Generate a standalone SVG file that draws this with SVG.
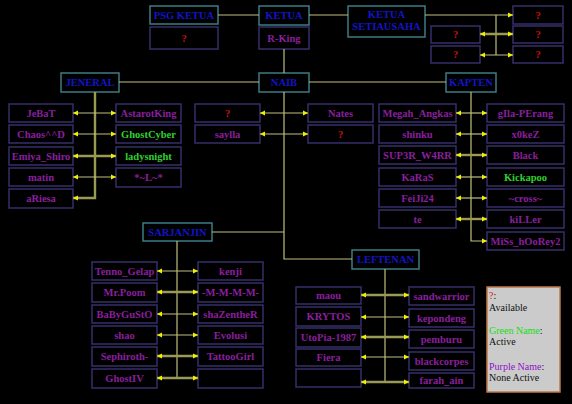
<svg xmlns="http://www.w3.org/2000/svg" width="572" height="404" viewBox="0 0 572 404">
<defs>
<style>
.h{fill:#000;stroke:#3c7c84;stroke-width:1.5}
.n{fill:#000;stroke:#352f68;stroke-width:1.5}
text{font-family:"Liberation Serif","Times New Roman",serif;font-weight:bold;font-size:10.5px;text-anchor:middle}
.t{fill:#1414c8}
.p{fill:#8a1f9e}
.g{fill:#30d030}
.r{fill:#cc1010}
.c line,.c polyline{fill:none;stroke:#c0c07c;stroke-width:1.2}
.c .k{stroke:#9a9a55;stroke-width:2.4}
.c .a{marker-end:url(#ah)}
.c .b{marker-start:url(#ah);marker-end:url(#ah)}
.lg text{font-weight:normal;font-size:10px;text-anchor:start;fill:#111}
</style>
<marker id="ah" markerUnits="userSpaceOnUse" markerWidth="6" markerHeight="6" refX="5" refY="3" orient="auto-start-reverse">
<path d="M0,0.5 L5,3 L0,5.5 z" fill="#f0f000"/>
</marker>
</defs>
<rect width="572" height="404" fill="#000"/>

<g id="psg-ketua"><rect class="h" x="150" y="6" width="68" height="18"/><text class="t" x="184" y="18.5">PSG KETUA</text></g>
<g id="psg-ketua-name"><rect class="n" x="150" y="27" width="68" height="22"/><text class="r" x="184" y="41.5">?</text></g>
<g id="ketua"><rect class="h" x="259" y="6" width="50" height="19"/><text class="t" x="284" y="19">KETUA</text></g>
<g id="ketua-name"><rect class="n" x="259" y="27" width="50" height="22"/><text class="p" x="284" y="41.5">R-King</text></g>
<g id="setiausaha"><rect class="h" x="348" y="6" width="77" height="31"/><text class="t" x="386.5" y="18">KETUA</text><text class="t" x="386.5" y="29.5">SETIAUSAHA</text></g>
<g id="setia-r1"><rect class="n" x="513" y="6" width="50" height="18"/><text class="r" x="538" y="18.5">?</text></g>
<g id="setia-r2"><rect class="n" x="513" y="26" width="50" height="17"/><text class="r" x="538" y="38">?</text></g>
<g id="setia-r3"><rect class="n" x="513" y="46" width="50" height="17"/><text class="r" x="538" y="58">?</text></g>
<g id="setia-l2"><rect class="n" x="431" y="26" width="49" height="17"/><text class="r" x="455.5" y="38">?</text></g>
<g id="setia-l3"><rect class="n" x="431" y="46" width="49" height="17"/><text class="r" x="455.5" y="58">?</text></g>

<g id="naib"><rect class="h" x="259" y="73" width="50" height="19"/><text class="t" x="284" y="86">NAIB</text></g>
<g id="naib-l1"><rect class="n" x="195" y="104" width="65" height="18"/><text class="r" x="227.5" y="116.5">?</text></g>
<g id="naib-l2"><rect class="n" x="195" y="125" width="65" height="18"/><text class="p" x="227.5" y="137.5">saylla</text></g>
<g id="naib-r1"><rect class="n" x="308" y="104" width="65" height="18"/><text class="p" x="340.5" y="116.5">Nates</text></g>
<g id="naib-r2"><rect class="n" x="308" y="125" width="65" height="18"/><text class="r" x="340.5" y="137.5">?</text></g>

<g id="jeneral"><rect class="h" x="61" y="73" width="58" height="19"/><text class="t" x="90" y="86">JENERAL</text></g>
<g id="jen-l1"><rect class="n" x="9" y="104" width="64" height="18"/><text class="p" x="41" y="116.5">JeBaT</text></g>
<g id="jen-l2"><rect class="n" x="9" y="125" width="64" height="18"/><text class="p" x="41" y="137.5">Chaos^^D</text></g>
<g id="jen-l3"><rect class="n" x="9" y="147" width="64" height="18"/><text class="p" x="41" y="159.5">Emiya_Shiro</text></g>
<g id="jen-l4"><rect class="n" x="9" y="168" width="64" height="18"/><text class="p" x="41" y="180.5">matin</text></g>
<g id="jen-l5"><rect class="n" x="9" y="189" width="64" height="19"/><text class="p" x="41" y="202">aRiesa</text></g>
<g id="jen-r1"><rect class="n" x="116" y="104" width="65" height="18"/><text class="p" x="148.5" y="116.5">AstarotKing</text></g>
<g id="jen-r2"><rect class="n" x="116" y="125" width="65" height="18"/><text class="g" x="148.5" y="137.5">GhostCyber</text></g>
<g id="jen-r3"><rect class="n" x="116" y="147" width="65" height="18"/><text class="g" x="148.5" y="159.5">ladysnight</text></g>
<g id="jen-r4"><rect class="n" x="116" y="168" width="65" height="19"/><text class="p" x="148.5" y="180.5">*~L~*</text></g>

<g id="kapten"><rect class="h" x="446" y="73" width="50" height="19"/><text class="t" x="471" y="86">KAPTEN</text></g>
<g id="kap-l1"><rect class="n" x="379" y="104" width="77" height="18"/><text class="p" x="417.5" y="116.5">Megah_Angkas</text></g>
<g id="kap-l2"><rect class="n" x="379" y="125" width="77" height="18"/><text class="p" x="417.5" y="137.5">shinku</text></g>
<g id="kap-l3"><rect class="n" x="379" y="146" width="77" height="18"/><text class="p" x="417.5" y="158.5">SUP3R_W4RR</text></g>
<g id="kap-l4"><rect class="n" x="379" y="168" width="77" height="18"/><text class="p" x="417.5" y="180.5">KaRaS</text></g>
<g id="kap-l5"><rect class="n" x="379" y="189" width="77" height="18"/><text class="p" x="417.5" y="201.5">FeiJi24</text></g>
<g id="kap-l6"><rect class="n" x="379" y="210" width="77" height="18"/><text class="p" x="417.5" y="222.5">te</text></g>
<g id="kap-r1"><rect class="n" x="487" y="104" width="77" height="18"/><text class="p" x="525.5" y="116.5">gIla-PErang</text></g>
<g id="kap-r2"><rect class="n" x="487" y="125" width="77" height="18"/><text class="p" x="525.5" y="137.5">x0keZ</text></g>
<g id="kap-r3"><rect class="n" x="487" y="146" width="77" height="18"/><text class="p" x="525.5" y="158.5">Black</text></g>
<g id="kap-r4"><rect class="n" x="487" y="168" width="77" height="18"/><text class="g" x="525.5" y="180.5">Kickapoo</text></g>
<g id="kap-r5"><rect class="n" x="487" y="189" width="77" height="18"/><text class="p" x="525.5" y="201.5">~cross~</text></g>
<g id="kap-r6"><rect class="n" x="487" y="210" width="77" height="18"/><text class="p" x="525.5" y="222.5">kiLLer</text></g>
<g id="kap-r7"><rect class="n" x="487" y="232" width="77" height="18"/><text class="p" x="525.5" y="244.5">MiSs_hOoRey2</text></g>

<g id="sarjanjin"><rect class="h" x="143" y="223" width="69" height="18"/><text class="t" x="177.5" y="235.5">SARJANJIN</text></g>
<g id="sar-l1"><rect class="n" x="92" y="262" width="65" height="18"/><text class="p" x="124.5" y="274.5">Tenno_Gelap</text></g>
<g id="sar-l2"><rect class="n" x="92" y="283" width="65" height="19"/><text class="p" x="124.5" y="296">Mr.Poom</text></g>
<g id="sar-l3"><rect class="n" x="92" y="305" width="65" height="18"/><text class="p" x="124.5" y="317.5">BaByGuStO</text></g>
<g id="sar-l4"><rect class="n" x="92" y="326" width="65" height="18"/><text class="p" x="124.5" y="338.5">shao</text></g>
<g id="sar-l5"><rect class="n" x="92" y="347" width="65" height="19"/><text class="p" x="124.5" y="360">Sephiroth-</text></g>
<g id="sar-l6"><rect class="n" x="92" y="369" width="65" height="19"/><text class="p" x="124.5" y="382">GhostIV</text></g>
<g id="sar-r1"><rect class="n" x="198" y="262" width="65" height="18"/><text class="p" x="230.5" y="274.5">kenji</text></g>
<g id="sar-r2"><rect class="n" x="198" y="283" width="65" height="19"/><text class="p" x="230.5" y="296">-M-M-M-M-</text></g>
<g id="sar-r3"><rect class="n" x="198" y="305" width="65" height="18"/><text class="p" x="230.5" y="317.5">shaZentheR</text></g>
<g id="sar-r4"><rect class="n" x="198" y="326" width="65" height="18"/><text class="p" x="230.5" y="338.5">Evolusi</text></g>
<g id="sar-r5"><rect class="n" x="198" y="347" width="65" height="19"/><text class="p" x="230.5" y="360">TattooGirl</text></g>
<g id="sar-r6"><rect class="n" x="198" y="369" width="65" height="19"/></g>

<g id="leftenan"><rect class="h" x="352" y="250" width="67" height="19"/><text class="t" x="385.5" y="263">LEFTENAN</text></g>
<g id="lef-l1"><rect class="n" x="296" y="287" width="65" height="17"/><text class="p" x="328.5" y="299">maou</text></g>
<g id="lef-l2"><rect class="n" x="296" y="307" width="65" height="19"/><text class="p" x="328.5" y="320">KRYTOS</text></g>
<g id="lef-l3"><rect class="n" x="296" y="328" width="65" height="19"/><text class="p" x="328.5" y="341">UtoPia-1987</text></g>
<g id="lef-l4"><rect class="n" x="296" y="349" width="65" height="17"/><text class="p" x="328.5" y="361">Fiera</text></g>
<g id="lef-l5"><rect class="n" x="296" y="369" width="65" height="18"/></g>
<g id="lef-r1"><rect class="n" x="409" y="287" width="65" height="18"/><text class="p" x="441.5" y="299.5">sandwarrior</text></g>
<g id="lef-r2"><rect class="n" x="409" y="309" width="65" height="18"/><text class="p" x="441.5" y="321.5">kepondeng</text></g>
<g id="lef-r3"><rect class="n" x="409" y="330" width="65" height="18"/><text class="p" x="441.5" y="342.5">pemburu</text></g>
<g id="lef-r4"><rect class="n" x="409" y="352" width="65" height="18"/><text class="p" x="441.5" y="364.5">blackcorpes</text></g>
<g id="lef-r5"><rect class="n" x="409" y="373" width="65" height="15"/><text class="p" x="441.5" y="384">farah_ain</text></g>

<g id="legend" class="lg">
<rect x="487" y="287" width="73" height="105" fill="#cbcbcb" stroke="#c07848" stroke-width="1.5"/>
<text x="489" y="299"><tspan fill="#e01010">?</tspan>:</text>
<text x="489" y="311">Available</text>
<text x="489" y="334"><tspan fill="#10e010">Green Name</tspan>:</text>
<text x="489" y="345">Active</text>
<text x="489" y="370"><tspan fill="#9010c8">Purple Name</tspan>:</text>
<text x="489" y="381">None Active</text>
</g>

<g id="connectors" class="c">
<line x1="218" y1="15" x2="259" y2="15"/>
<line x1="309" y1="15" x2="348" y2="15"/>
<line class="a" x1="425" y1="15" x2="513" y2="15"/>
<line x1="496" y1="15" x2="496" y2="55"/>
<line class="b k" x1="480" y1="34" x2="513" y2="34"/>
<line class="b" x1="480" y1="55" x2="513" y2="55"/>
<line x1="284" y1="49" x2="284" y2="73"/>
<line x1="119" y1="82" x2="259" y2="82"/>
<line x1="309" y1="82" x2="446" y2="82"/>
<polyline points="284,92 284,259 352,259"/>
<line x1="212" y1="232" x2="284" y2="232"/>
<line class="b" x1="260" y1="113" x2="308" y2="113"/>
<line class="b" x1="260" y1="134" x2="308" y2="134"/>
<polyline class="k a" points="95,92 95,198 73,198"/>
<line class="b" x1="73" y1="113" x2="116" y2="113"/>
<line class="b" x1="73" y1="134" x2="116" y2="134"/>
<line class="b k" x1="73" y1="156" x2="116" y2="156"/>
<line class="b" x1="73" y1="177" x2="116" y2="177"/>
<polyline class="a" points="471,92 471,241 487,241"/>
<line class="b" x1="456" y1="113" x2="487" y2="113"/>
<line class="b" x1="456" y1="134" x2="487" y2="134"/>
<line class="b k" x1="456" y1="155" x2="487" y2="155"/>
<line class="b" x1="456" y1="177" x2="487" y2="177"/>
<line class="b" x1="456" y1="198" x2="487" y2="198"/>
<line class="b k" x1="456" y1="219" x2="487" y2="219"/>
<line x1="177" y1="241" x2="177" y2="378"/>
<line class="b" x1="157" y1="271" x2="198" y2="271"/>
<line class="b k" x1="157" y1="292" x2="198" y2="292"/>
<line class="b" x1="157" y1="314" x2="198" y2="314"/>
<line class="b" x1="157" y1="335" x2="198" y2="335"/>
<line class="b k" x1="157" y1="356" x2="198" y2="356"/>
<line class="b k" x1="157" y1="378" x2="198" y2="378"/>
<line x1="385" y1="269" x2="385" y2="382"/>
<line class="b k" x1="361" y1="295" x2="409" y2="295"/>
<line class="b" x1="361" y1="317" x2="409" y2="317"/>
<line class="b k" x1="361" y1="337" x2="409" y2="337"/>
<line class="b" x1="361" y1="357" x2="409" y2="357"/>
<line class="b k" x1="361" y1="382" x2="409" y2="382"/>
</g>
</svg>
